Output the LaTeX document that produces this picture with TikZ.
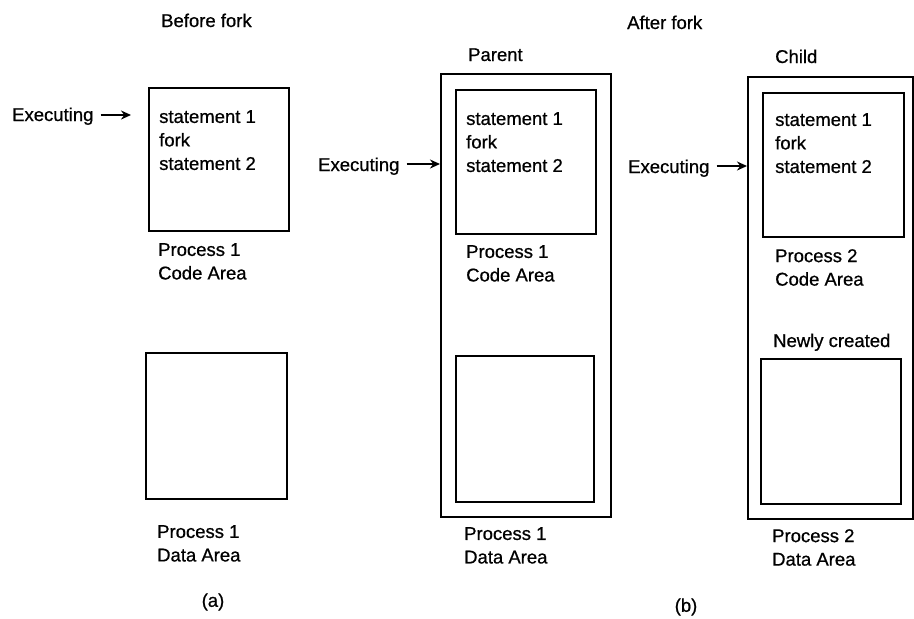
\documentclass[tikz,border=0pt]{standalone}
\usepackage{fontspec}
\setmainfont{Liberation Sans}[FakeBold=0.7]
\usetikzlibrary{arrows.meta}
\begin{document}
\begin{tikzpicture}[x=1pt,y=-1pt,
  box/.style={draw, line width=1.8pt, anchor=north west, inner sep=0pt},
  lbl/.style={anchor=base west, inner sep=0pt, font=\fontsize{18.5}{23.5}\selectfont},
  blk/.style={anchor=north west, inner sep=0pt, align=left, font=\fontsize{18.5}{23.5}\selectfont},
  arr/.style={line width=2.8pt, -{Stealth[length=10pt,width=9pt]}}]
\useasboundingbox (0,0) rectangle (914,619);
% titles
\node[lbl] (tBefore) at (161,27) {Before fork};
\node[lbl] (tAfter) at (627,29) {After fork};
\node[lbl] (tParent) at (468,61) {Parent};
\node[lbl] (tChild) at (775,63) {Child};
% (a)
\node[box, minimum width=140pt, minimum height=143pt] (codeA) at (148,87) {};
\node[box, minimum width=141pt, minimum height=146pt] (dataA) at (145,352) {};
\node[blk] (stA) at (159,110) {statement 1\\fork\\statement 2};
\node[blk] (pcA) at (158,243) {Process 1\\Code Area};
\node[blk] (pdA) at (157,525) {Process 1\\Data Area};
\node[lbl] (exA) at (12,121) {Executing};
\coordinate (tipA) at (131,115);
\draw[arr] (exA.east |- tipA) ++(7,0) -- (tipA);
\node[font=\fontsize{18.5}{23.5}\selectfont, inner sep=0pt] (capA) at (213,602) {(a)};
% parent
\node[box, minimum width=170pt, minimum height=443pt] (outP) at (440,73) {};
\node[box, minimum width=140pt, minimum height=144pt] (codeP) at (455,89) {};
\node[box, minimum width=138pt, minimum height=146pt] (dataP) at (455,355) {};
\node[blk] (stP) at (466,112) {statement 1\\fork\\statement 2};
\node[blk] (pcP) at (466,245) {Process 1\\Code Area};
\node[blk] (pdP) at (464,527) {Process 1\\Data Area};
\node[lbl] (exP) at (318,171) {Executing};
\coordinate (tipP) at (outP.west |- 0,164);
\draw[arr] (exP.east |- tipP) ++(7,0) -- (tipP);
% child
\node[box, minimum width=165pt, minimum height=442pt] (outC) at (747,76) {};
\node[box, minimum width=141pt, minimum height=144pt] (codeC) at (762,92) {};
\node[box, minimum width=140pt, minimum height=145pt] (dataC) at (760,358) {};
\node[blk] (stC) at (775,113) {statement 1\\fork\\statement 2};
\node[blk] (pcC) at (775,249) {Process 2\\Code Area};
\node[lbl] (newC) at (773,347) {Newly created};
\node[blk] (pdC) at (772,529) {Process 2\\Data Area};
\node[lbl] (exC) at (628,173) {Executing};
\coordinate (tipC) at (outC.west |- 0,166);
\draw[arr] (exC.east |- tipC) ++(7,0) -- (tipC);
\node[font=\fontsize{18.5}{23.5}\selectfont, inner sep=0pt] (capB) at (686,607) {(b)};
\end{tikzpicture}
\end{document}
